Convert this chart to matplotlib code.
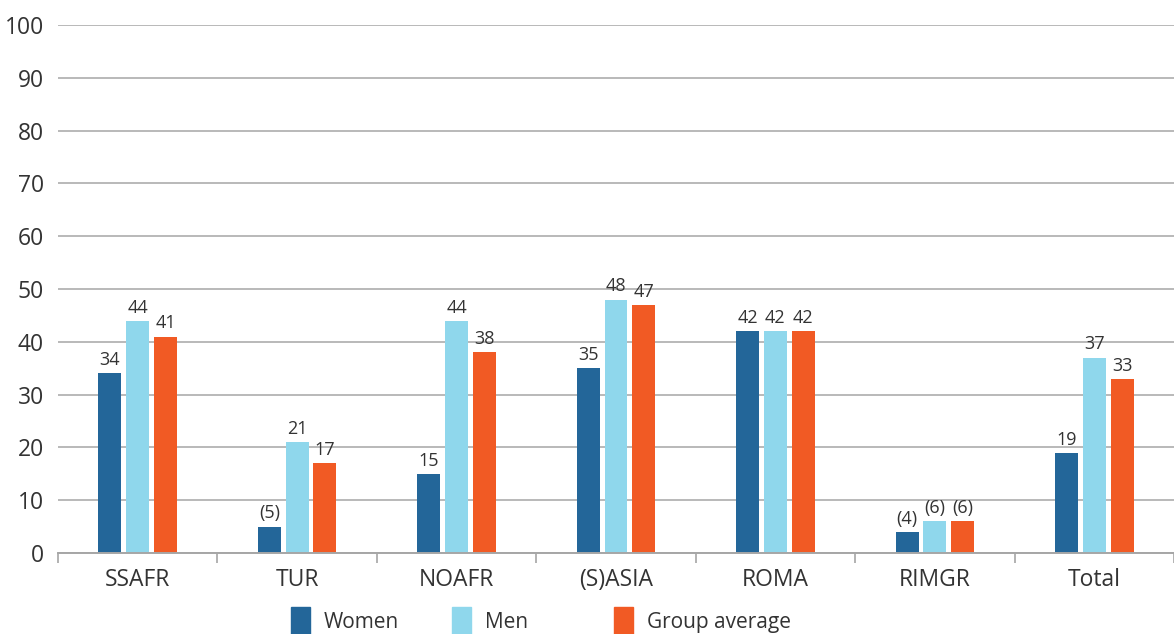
import matplotlib
matplotlib.use("Agg")
import matplotlib.pyplot as plt
from matplotlib.patches import Rectangle
import numpy as np

plt.rcParams['font.family'] = ['Open Sans', 'DejaVu Sans']

categories = ["SSAFR", "TUR", "NOAFR", "(S)ASIA", "ROMA", "RIMGR", "Total"]
women = [34, 5, 15, 35, 42, 4, 19]
men = [44, 21, 44, 48, 42, 6, 37]
group_avg = [41, 17, 38, 47, 42, 6, 33]
women_labels = ["34", "(5)", "15", "35", "42", "(4)", "19"]
men_labels = ["44", "21", "44", "48", "42", "(6)", "37"]
avg_labels = ["41", "17", "38", "47", "42", "(6)", "33"]
series_names = ["Women", "Men", "Group average"]
colors = ["#236699", "#8fd7ec", "#f15a24"]
yticks = list(range(0, 101, 10))

text_color = "#333333"
grid_color = "#a6a6a6"

fig = plt.figure(figsize=(11.74, 6.34), dpi=100)
ax = fig.add_axes([58/1174, 1-553/634, 1-58/1174, (553-25)/634])

x = np.arange(len(categories))
w = 0.144
step = 0.174
series = [women, men, group_avg]
labels = [women_labels, men_labels, avg_labels]
for i, (vals, labs, c) in enumerate(zip(series, labels, colors)):
    bars = ax.bar(x + (i - 1) * step, vals, width=w, color=c, zorder=3)
    ax.bar_label(bars, labels=labs, padding=3, fontsize=13, color=text_color)

ax.set_xlim(-0.5, len(categories) - 0.5)
ax.set_ylim(0, 100)
ax.set_yticks(yticks)
ax.set_yticklabels([str(t) for t in yticks], fontsize=16.5, color=text_color)
ax.set_xticks(x)
ax.set_xticklabels(categories, fontsize=16.5, color=text_color)
ax.set_xticks(np.arange(-0.5, len(categories), 1.0), minor=True)
ax.tick_params(axis='x', which='major', length=0, pad=11)
ax.tick_params(axis='x', which='minor', length=7, color=grid_color, width=1.2)
ax.tick_params(axis='y', length=0, pad=10)
ax.grid(axis='y', color=grid_color, linewidth=1.1, zorder=0)
for s in ['top', 'right', 'left']:
    ax.spines[s].set_visible(False)
ax.spines['bottom'].set_color(grid_color)
ax.spines['bottom'].set_linewidth(1.4)
ax.spines['bottom'].set_zorder(4)

# legend
sq_x = [291, 452, 614]
tx_x = [324, 485, 647]
for name, c, sx, tx in zip(series_names, colors, sq_x, tx_x):
    fig.add_artist(Rectangle((sx/1174, -0.01), 19/1174, (634-607)/634 + 0.01,
                             transform=fig.transFigure, color=c, clip_on=False))
    fig.text(tx/1174, 1-628/634, name, fontsize=15, color=text_color, va='baseline', ha='left')

fig.savefig("out.png", dpi=100)
